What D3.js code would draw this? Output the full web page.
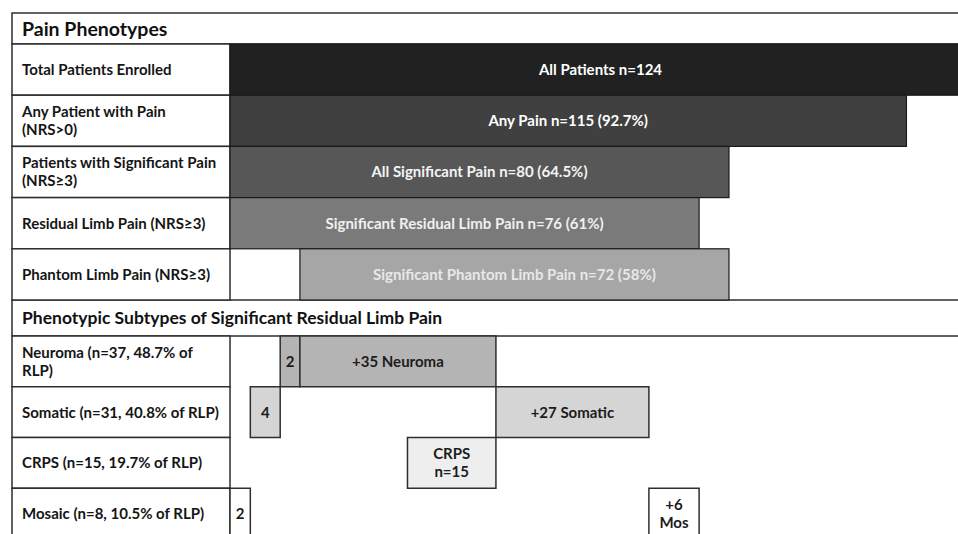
<!DOCTYPE html>
<html>
<head>
<meta charset="utf-8">
<script src="https://cdn.jsdelivr.net/npm/d3@7"></script>
<style>
body { margin: 0; background: #ffffff; }
text { font-family: Lato, "Open Sans", sans-serif; font-weight: bold; }
</style>
</head>
<body>
<script>
let width = 958
let height = 534

// top section: pain phenotypes
let topLabels = [
	["Total Patients Enrolled"],
	["Any Patient with Pain", "(NRS>0)"],
	["Patients with Significant Pain", "(NRS≥3)"],
	["Residual Limb Pain (NRS≥3)"],
	["Phantom Limb Pain (NRS≥3)"]
]
let topBarText = [
	"All Patients n=124",
	"Any Pain n=115 (92.7%)",
	"All Significant Pain n=80 (64.5%)",
	"Significant Residual Limb Pain n=76 (61%)",
	"Significant Phantom Limb Pain n=72 (58%)"
]
let topStart = [0, 0, 0, 0, 11.7]
let topEnd = [124, 113.2, 83.5, 78.5, 83.5]

// bottom section: subtypes of residual limb pain
let subLabels = [
	["Neuroma (n=37, 48.7% of", "RLP)"],
	["Somatic (n=31, 40.8% of RLP)"],
	["CRPS (n=15, 19.7% of RLP)"],
	["Mosaic (n=8, 10.5% of RLP)"]
]
let subTypes = ["Neuroma", "Somatic", "CRPS", "Mosaic"]
let boxRow = [3, 1, 0, 0, 1, 2, 3]
let boxStart = [0, 3.4, 8.4, 11.7, 44.5, 29.7, 70.1]
let boxEnd = [3.4, 8.4, 11.7, 44.5, 70.1, 44.5, 78.5]
let boxText = [["2"], ["4"], ["2"], ["+35 Neuroma"], ["+27 Somatic"], ["CRPS", "n=15"], ["+6", "Mos"]]

let left = 12
let labelRight = 230
let fontSize = 15

let x = d3.scaleLinear().domain([0, 124]).range([labelRight, 971])
let yTop = d3.scaleLinear().domain([0, 5]).range([44, 300])
let ySub = d3.scaleLinear().domain([0, 4]).range([336, 539])

let topFill = d3.scaleOrdinal().domain(d3.range(5))
	.range(["#212121", "#404040", "#575757", "#7a7a7a", "#a6a6a6"])
let topInk = d3.scaleOrdinal().domain(d3.range(5))
	.range(["#ffffff", "#ffffff", "#f4f4f4", "#f0f0f0", "#e8e8e8"])
let subFill = d3.scaleOrdinal().domain(subTypes)
	.range(["#b4b4b4", "#d5d5d5", "#eeeeee", "#ffffff"])

let svg = d3.select("body")
.append("svg")
.attr("width", width)
.attr("height", height)

let line = "#2e2e2e"

// header rows
let headers = [
	{ text: "Pain Phenotypes", y0: 13, y1: yTop(0), size: 19.5 },
	{ text: "Phenotypic Subtypes of Significant Residual Limb Pain", y0: yTop(5), y1: ySub(0), size: 17.5 }
]

svg.selectAll(".header")
.data(headers)
.join("rect")
.attr("class", "header")
.attr("x", left)
.attr("y", d => d.y0)
.attr("width", 990)
.attr("height", d => d.y1 - d.y0)
.style("fill", "#ffffff")
.style("stroke", line)
.style("stroke-width", 1.5)

svg.selectAll(".headerText")
.data(headers)
.join("text")
.attr("class", "headerText")
.attr("x", 22)
.attr("y", d => (d.y0 + d.y1) / 2)
.attr("dy", "0.36em")
.style("font-size", d => d.size + "px")
.style("fill", "#111111")
.text(d => d.text)

// label cells
function labelCells(labels, yScale) {
	let g = svg.append("g")
	g.selectAll("rect")
	.data(labels)
	.join("rect")
	.attr("x", left)
	.attr("y", (d, i) => yScale(i))
	.attr("width", labelRight - left)
	.attr("height", (d, i) => yScale(i + 1) - yScale(i))
	.style("fill", "#ffffff")
	.style("stroke", line)
	.style("stroke-width", 1.5)

	g.selectAll("text")
	.data(labels)
	.join("text")
	.attr("x", 22)
	.attr("y", (d, i) => (yScale(i) + yScale(i + 1)) / 2)
	.style("font-size", fontSize + "px")
	.style("fill", "#151515")
	.each(function (d) {
		let t = d3.select(this)
		d.forEach((s, k) => {
			t.append("tspan")
			.attr("x", 22)
			.attr("dy", k === 0 ? (0.36 - (d.length - 1) * 0.6) + "em" : "1.2em")
			.text(s)
		})
	})
}

labelCells(topLabels, yTop)
labelCells(subLabels, ySub)

// top bars
let bars = svg.append("g")
bars.selectAll("rect")
.data(topBarText)
.join("rect")
.attr("x", (d, i) => x(topStart[i]))
.attr("y", (d, i) => yTop(i))
.attr("width", (d, i) => x(topEnd[i]) - x(topStart[i]))
.attr("height", (d, i) => yTop(i + 1) - yTop(i))
.style("fill", (d, i) => topFill(i))
.style("stroke", "#1a1a1a")
.style("stroke-width", 1.2)

bars.selectAll("text")
.data(topBarText)
.join("text")
.attr("x", (d, i) => (x(topStart[i]) + x(topEnd[i])) / 2)
.attr("y", (d, i) => (yTop(i) + yTop(i + 1)) / 2)
.attr("dy", "0.36em")
.attr("text-anchor", "middle")
.style("font-size", fontSize + "px")
.style("fill", (d, i) => topInk(i))
.text(d => d)

// subtype boxes
let boxes = svg.append("g")
boxes.selectAll("rect")
.data(boxText)
.join("rect")
.attr("x", (d, i) => x(boxStart[i]))
.attr("y", (d, i) => ySub(boxRow[i]))
.attr("width", (d, i) => x(boxEnd[i]) - x(boxStart[i]))
.attr("height", (d, i) => ySub(boxRow[i] + 1) - ySub(boxRow[i]))
.style("fill", (d, i) => subFill(subTypes[boxRow[i]]))
.style("stroke", line)
.style("stroke-width", 1.5)

boxes.selectAll("text")
.data(boxText)
.join("text")
.attr("x", (d, i) => (x(boxStart[i]) + x(boxEnd[i])) / 2)
.attr("y", (d, i) => boxRow[i] === 3 ? ySub(3) + 25 : (ySub(boxRow[i]) + ySub(boxRow[i] + 1)) / 2)
.attr("text-anchor", "middle")
.style("font-size", fontSize + "px")
.style("fill", "#1c1c1c")
.each(function (d, i) {
	let t = d3.select(this)
	let cx = (x(boxStart[i]) + x(boxEnd[i])) / 2
	d.forEach((s, k) => {
		t.append("tspan")
		.attr("x", cx)
		.attr("dy", k === 0 ? (0.36 - (d.length - 1) * 0.6) + "em" : "1.2em")
		.text(s)
	})
})
</script>
</body>
</html>
